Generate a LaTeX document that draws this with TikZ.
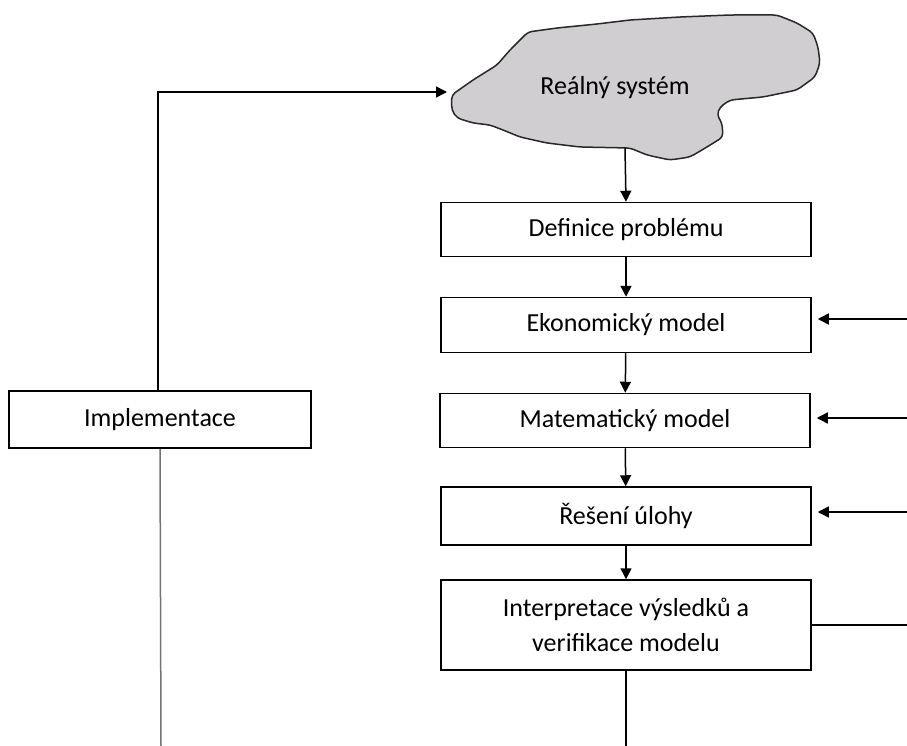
\documentclass[tikz,border=0pt]{standalone}
\usepackage{fontspec}
\setmainfont{Carlito}
\usepackage{tikz}
\usetikzlibrary{arrows.meta}
\definecolor{mracno}{RGB}{208,206,208}
\definecolor{obrys}{RGB}{40,40,40}
\tikzset{
  krok/.style={draw,line width=1.5pt,inner sep=0pt,minimum width=370pt,align=center,
    font=\fontsize{26}{35}\selectfont},
  sipka/.style={line width=1.5pt,-{Triangle[length=11pt,width=11pt]}},
  cara/.style={line width=1.5pt},
}

\begin{document}
\begin{tikzpicture}[x=1pt,y=-1pt]
  \useasboundingbox (0,0) rectangle (907,746);

  % realny system
  \draw[line width=1.5pt,obrys,fill=mracno,rounded corners=4pt]
    (451.7,95) -- (473,80) -- (497,65) -- (510,50) -- (528,32) -- (557,28) -- (597,24)
    -- (630,20) -- (680,17) -- (730,15) -- (777,15) -- (797,23) -- (813,33) -- (818,47)
    -- (820,63) -- (815,77) -- (797,90) -- (763,97) -- (730,100) -- (720,107) -- (717,115)
    -- (722,123) -- (723,137) -- (707,147) -- (690,157) -- (670,160) -- (647,155)
    -- (630,148) -- (580,147) -- (547,143) -- (520,137) -- (503,130) -- (490,125)
    -- (473,123) -- (457,118) -- (451.7,110) -- cycle;
  \node[font=\fontsize{26}{30}\selectfont] (sys) at (615,88) {Reálný systém};
  \coordinate (sysdole) at (625,148);
  \coordinate (sysvlevo) at (447,92);

  % kroky
  \node[krok,minimum height=54pt] (def) at (626,229.5) {Definice problému};
  \node[krok,minimum height=55pt] (eko) at (626,325) {Ekonomický model};
  \node[krok,minimum height=54pt] (mat) at (625,420.5) {Matematický model};
  \node[krok,minimum height=58pt] (res) at (626,516) {Řešení úlohy};
  \node[krok,minimum height=90pt] (int) at (626,625) {Interpretace výsledků a\\verifikace modelu};
  \node[krok,minimum width=302pt,minimum height=57pt] (imp) at (160,419.7) {Implementace};

  % sipky dolu
  \draw[sipka] (sysdole) -- (def.north);
  \draw[sipka] (def) -- (eko);
  \draw[sipka] (eko) -- (mat);
  \draw[sipka] (mat) -- (res);
  \draw[sipka] (res) -- (int);

  % vstupy zprava
  \coordinate (vstupA) at (907,319);
  \coordinate (vstupB) at (907,418);
  \coordinate (vstupC) at (907,512);
  \coordinate (vystup) at (907,625);
  \draw[sipka,shorten >=6pt] (vstupA) -- (eko.east |- vstupA);
  \draw[sipka,shorten >=6pt] (vstupB) -- (mat.east |- vstupB);
  \draw[sipka,shorten >=6pt] (vstupC) -- (res.east |- vstupC);
  \draw[cara] (int.east) -- (vystup);

  % zpetna vazba
  \coordinate (intdole) at (int.south |- 0,746);
  \coordinate (impdole) at (161,746);
  \draw[cara] (int.south) -- (intdole);
  \draw[cara,black!55] (imp.south) -- (impdole);
  \draw[sipka] ([xshift=-2pt]imp.north) |- (sysvlevo);
\end{tikzpicture}
\end{document}
